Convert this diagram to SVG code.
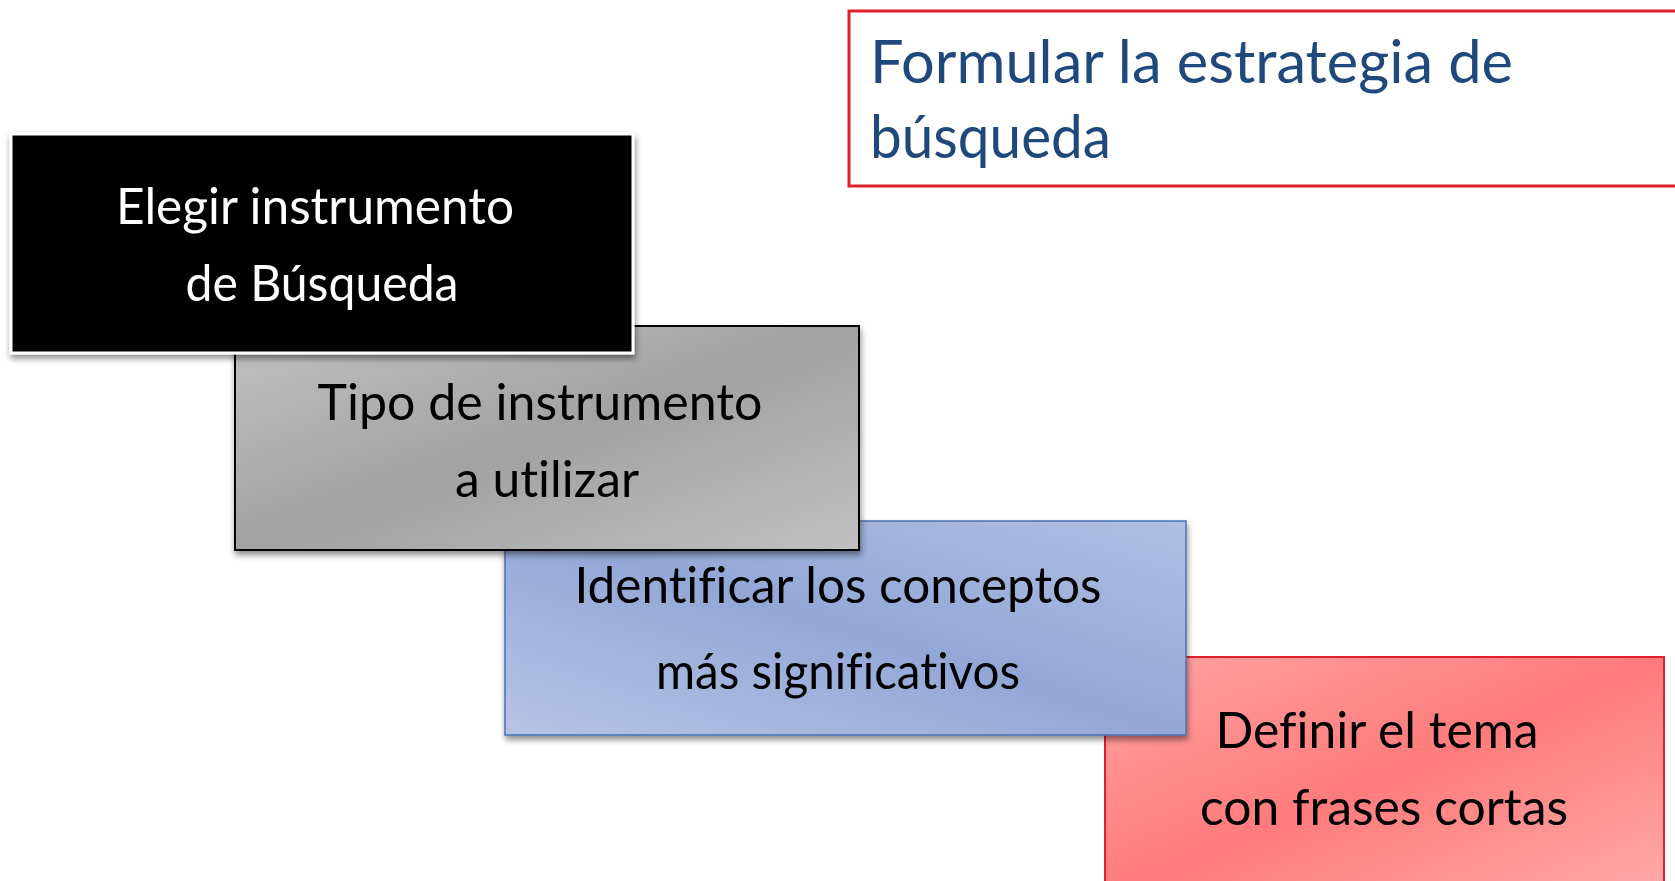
<svg xmlns="http://www.w3.org/2000/svg" width="1675" height="881" viewBox="0 0 1675 881">
<defs>
<linearGradient id="gGray" x1="0" y1="0" x2="1" y2="1">
<stop offset="0" stop-color="#c2c2c2"/><stop offset="0.5" stop-color="#a2a2a2"/><stop offset="1" stop-color="#c0c0c0"/>
</linearGradient>
<linearGradient id="gBlue" x1="0" y1="1" x2="1" y2="0">
<stop offset="0" stop-color="#b6c4e4"/><stop offset="0.5" stop-color="#93a7d7"/><stop offset="1" stop-color="#b0bfe2"/>
</linearGradient>
<linearGradient id="gRed" x1="0" y1="0" x2="1" y2="1">
<stop offset="0" stop-color="#ffa3a3"/><stop offset="0.5" stop-color="#ff7b7b"/><stop offset="1" stop-color="#ffaaaa"/>
</linearGradient>
<filter id="sh" x="-10%" y="-10%" width="125%" height="130%">
<feDropShadow dx="1" dy="4" stdDeviation="3" flood-color="#000" flood-opacity="0.45"/>
</filter>
<style>
.t{font-family:"Lato","Liberation Sans",sans-serif;font-size:50px;text-anchor:middle;font-variant-ligatures:none;}
.title{font-family:"Lato","Liberation Sans",sans-serif;font-size:60px;fill:#1f497d;font-variant-ligatures:none;}
</style>
</defs>
<g id="title">
<rect x="849" y="11" width="840" height="175" fill="#fff" stroke="#e0202c" stroke-width="3"/>
<text class="title" x="870" y="83" textLength="643" lengthAdjust="spacingAndGlyphs">Formular la estrategia de</text>
<text class="title" x="870" y="158" textLength="241" lengthAdjust="spacingAndGlyphs">búsqueda</text>
</g>
<g id="node-red">
<rect x="1105" y="657" width="559" height="240" fill="url(#gRed)" stroke="#e0202c" stroke-width="2"/>
<text class="t" x="1377" y="748" textLength="323" lengthAdjust="spacingAndGlyphs">Definir el tema</text>
<text class="t" x="1384" y="825" textLength="368" lengthAdjust="spacingAndGlyphs">con frases cortas</text>
</g>
<g id="node-blue">
<rect x="505" y="521" width="681" height="214" fill="url(#gBlue)" stroke="#4a72b0" stroke-width="1.5" filter="url(#sh)"/>
<text class="t" x="838" y="603" textLength="527" lengthAdjust="spacingAndGlyphs">Identificar los conceptos</text>
<text class="t" x="838" y="689" textLength="364" lengthAdjust="spacingAndGlyphs">más significativos</text>
</g>
<g id="node-gray">
<rect x="235" y="326" width="624" height="224" fill="url(#gGray)" stroke="#000" stroke-width="2" filter="url(#sh)"/>
<text class="t" x="540" y="420" textLength="445" lengthAdjust="spacingAndGlyphs">Tipo de instrumento</text>
<text class="t" x="547" y="497" textLength="184" lengthAdjust="spacingAndGlyphs">a utilizar</text>
</g>
<g id="node-black">
<rect x="11" y="134" width="622" height="219" fill="#000" stroke="#fff" stroke-width="3" filter="url(#sh)"/>
<text class="t" x="315" y="224" fill="#fff" textLength="398" lengthAdjust="spacingAndGlyphs">Elegir instrumento</text>
<text class="t" x="322" y="301" fill="#fff" textLength="273" lengthAdjust="spacingAndGlyphs">de Búsqueda</text>
</g>
<g id="connectors"/>
</svg>
